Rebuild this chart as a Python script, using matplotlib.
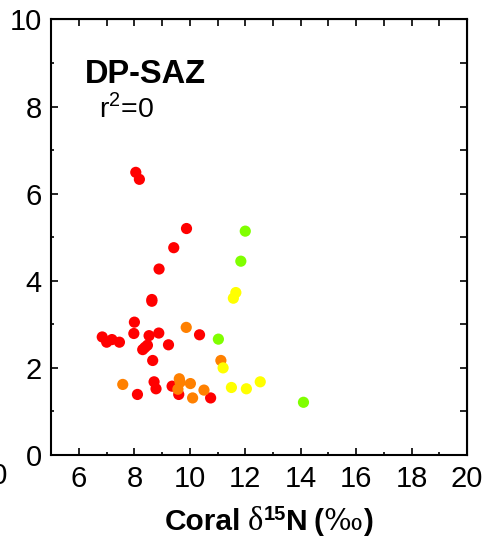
import matplotlib
matplotlib.use("Agg")
import matplotlib.pyplot as plt

plt.rcParams['font.family'] = ['Liberation Sans', 'DejaVu Sans']
plt.rcParams['mathtext.fontset'] = 'custom'
plt.rcParams['mathtext.rm'] = 'Liberation Sans'
plt.rcParams['mathtext.sf'] = 'Liberation Sans'

# coral d15N (x) vs value (y), grouped by colour
red_x = [8.05, 8.18, 9.88, 9.42, 8.89, 8.63, 8.63, 8.00, 6.84, 7.00, 7.19, 7.46,
         7.98, 8.53, 8.88, 8.47, 8.30, 8.38, 9.23, 8.66, 10.35, 8.71, 8.78, 8.11,
         9.36, 9.60, 10.75]
red_y = [6.49, 6.33, 5.20, 4.76, 4.27, 3.57, 3.53, 3.05, 2.71, 2.59, 2.65, 2.59,
         2.79, 2.74, 2.80, 2.52, 2.42, 2.47, 2.53, 2.17, 2.76, 1.68, 1.52, 1.39,
         1.58, 1.39, 1.31]
orange_x = [9.87, 7.58, 9.62, 9.65, 9.57, 10.02, 10.10, 10.51, 11.12]
orange_y = [2.93, 1.62, 1.75, 1.67, 1.51, 1.64, 1.31, 1.49, 2.17]
yellow_x = [11.66, 11.57, 11.20, 11.50, 12.04, 12.54]
yellow_y = [3.73, 3.60, 2.00, 1.55, 1.52, 1.68]
green_x = [12.00, 11.84, 11.03, 14.10]
green_y = [5.14, 4.45, 2.66, 1.21]

W, H = 488, 546
fig = plt.figure(figsize=(W / 100, H / 100), dpi=100)
ax = fig.add_axes([0.105, 0.1667, 0.852, 0.7976])

for xs, ys, c in [(red_x, red_y, '#ff0000'), (orange_x, orange_y, '#ff8000'),
                  (yellow_x, yellow_y, '#ffff00'), (green_x, green_y, '#80ff00')]:
    ax.scatter(xs, ys, s=65, color=c, edgecolors='none', zorder=3)

ax.set_xlim(5, 20)
ax.set_ylim(0, 10)
ax.set_xticks(range(6, 21, 2))
ax.set_yticks(range(0, 11, 2))
ax.set_xticks(range(5, 21), minor=True)
ax.set_yticks(range(0, 11), minor=True)
ax.tick_params(which='major', direction='in', length=5, width=1.2, labelsize=21, pad=7)
ax.tick_params(which='minor', direction='in', length=2.5, width=1.2)
for s in ax.spines.values():
    s.set_linewidth(1.5)

top = ax.secondary_xaxis('top')
top.set_xticks(range(5, 21))
top.tick_params(direction='in', length=5, width=1.2, labeltop=False)
right = ax.secondary_yaxis('right')
right.set_yticks(range(0, 11))
right.tick_params(direction='in', length=5, width=1.2, labelright=False)

ax.text(0.081, 0.855, 'DP-SAZ', transform=ax.transAxes,
        fontsize=23.5, fontweight='bold', ha='left', va='baseline')
ax.text(0.115, 0.776, r'r$^{\mathsf{2}}$=0', transform=ax.transAxes,
        fontsize=20.5, ha='left', va='baseline')

# x label built from pieces: bold sans words, serif delta and per-mille
bold = dict(fontsize=21.5, fontweight='bold')
pieces = [
    ('Coral', bold, 0, 0),
    ('\u03b4', dict(fontsize=23.5, family='Liberation Serif'), 7, 0),
    ('15', dict(fontsize=14.5, fontweight='bold'), 0, 10),
    ('N', bold, 0, 0),
    ('(', bold, 6, 0),
    ('\u2030', dict(fontsize=21, family='DejaVu Serif'), 0, 0),
    (')', bold, 1, 0),
]
base = 530
texts = [fig.text(0, 1 - (base - dy) / H, s, va='baseline', **kw)
         for s, kw, gap, dy in pieces]
fig.canvas.draw()
r = fig.canvas.get_renderer()
widths = [t.get_window_extent(r).width for t in texts]
total = sum(widths) + sum(p[2] for p in pieces)
x = 269 - total / 2
for t, w, p in zip(texts, widths, pieces):
    x += p[2]
    t.set_x(x / W)
    x += w

# clipped label from neighbouring panel
fig.text(8 / W, 1 - 476 / H, '20', fontsize=21, ha='right', va='center')

fig.savefig('out.png', dpi=100)
